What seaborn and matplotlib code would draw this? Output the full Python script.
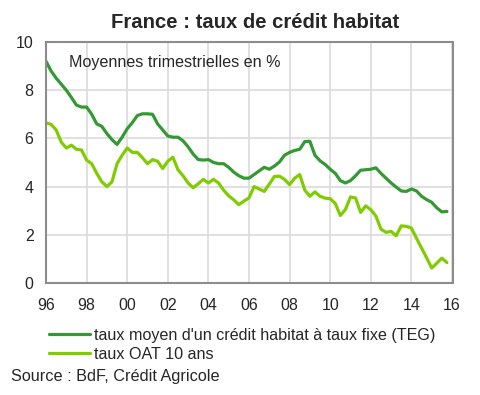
import numpy as np
import pandas as pd
import matplotlib
matplotlib.use('Agg')
import matplotlib.pyplot as plt
import seaborn as sns

# Style
sns.set_style('white')
plt.rcParams['font.family'] = ['Liberation Sans', 'DejaVu Sans']

# Quarterly averages, 1996Q1 .. 2015Q4
quarters = np.arange(1996, 2016, 0.25)

teg = [9.20, 8.80, 8.50, 8.25,
       8.00, 7.70, 7.38, 7.30,
       7.30, 7.00, 6.60, 6.50,
       6.20, 5.95, 5.75, 6.05,
       6.40, 6.65, 6.95, 7.02,
       7.02, 7.00, 6.60, 6.35,
       6.10, 6.05, 6.05, 5.90,
       5.65, 5.35, 5.12, 5.10,
       5.12, 5.00, 4.95, 4.95,
       4.80, 4.60, 4.45, 4.35,
       4.35, 4.50, 4.65, 4.80,
       4.72, 4.85, 5.02, 5.30,
       5.42, 5.50, 5.55, 5.87,
       5.88, 5.30, 5.07, 4.92,
       4.72, 4.55, 4.25, 4.15,
       4.25, 4.45, 4.68, 4.70,
       4.72, 4.78, 4.55, 4.35,
       4.15, 3.98, 3.82, 3.80,
       3.90, 3.82, 3.60, 3.46,
       3.35, 3.12, 2.95, 2.97]

oat = [6.65, 6.58, 6.35, 5.85,
       5.60, 5.72, 5.55, 5.52,
       5.10, 4.95, 4.55, 4.20,
       4.00, 4.20, 4.95, 5.30,
       5.60, 5.42, 5.42, 5.20,
       4.95, 5.12, 5.05, 4.75,
       5.05, 5.22, 4.70, 4.45,
       4.15, 3.95, 4.12, 4.30,
       4.15, 4.30, 4.15, 3.85,
       3.62, 3.45, 3.25, 3.40,
       3.53, 4.00, 3.90, 3.80,
       4.10, 4.42, 4.43, 4.30,
       4.08, 4.35, 4.50, 3.85,
       3.60, 3.78, 3.60, 3.52,
       3.50, 3.30, 2.80, 3.05,
       3.57, 3.53, 2.93, 3.20,
       3.04, 2.78, 2.24, 2.10,
       2.14, 1.96, 2.37, 2.35,
       2.28, 1.86, 1.45, 1.05,
       0.62, 0.82, 1.03, 0.85]

label_teg = "taux moyen d'un crédit habitat à taux fixe (TEG)"
label_oat = "taux OAT 10 ans"
year_ticks = list(range(1996, 2017, 2))
y_ticks = [0, 2, 4, 6, 8, 10]

df = pd.DataFrame({'date': quarters, 'teg': teg, 'oat': oat})

fig = plt.figure(figsize=(4.81, 3.95), dpi=100)
ax = fig.add_axes([46 / 481, (395 - 283) / 395, (453 - 46) / 481, (283 - 42) / 395])

sns.lineplot(data=df, x='date', y='teg', ax=ax, color='#339933', linewidth=2.3, label=label_teg)
sns.lineplot(data=df, x='date', y='oat', ax=ax, color='#80cc00', linewidth=2.3, label=label_oat)

ax.set_xlim(1996, 2016.05)
ax.set_ylim(0, 10)
ax.set_xticks(year_ticks)
ax.set_xticklabels([f'{y % 100:02d}' for y in year_ticks])
ax.set_yticks(y_ticks)
ax.set_xlabel('')
ax.set_ylabel('')
ax.tick_params(axis='both', length=0, labelsize=11.5, pad=9)
ax.tick_params(axis='x', pad=11)
ax.grid(True, color='#dddddd', linewidth=1.3)
ax.set_axisbelow(True)
for s in ax.spines.values():
    s.set_color('#8c8c8c')
    s.set_linewidth(1.5)

fig.text(69 / 481, (395 - 63) / 395, 'Moyennes trimestrielles en %',
         fontsize=11.6, va='center', ha='left')

fig.text(255 / 481, (395 - 23) / 395, 'France : taux de crédit habitat',
         ha='center', va='center', fontsize=14.6, fontweight='bold')

handles, labels = ax.get_legend_handles_labels()
ax.get_legend().remove()
fig.legend(handles, labels, loc='upper left', bbox_to_anchor=(49 / 481, (395 - 328) / 395),
           frameon=False, fontsize=11.6, handlelength=2.55, handletextpad=0.22,
           labelspacing=0.22, borderpad=0, borderaxespad=0)

fig.text(11 / 481, (395 - 376) / 395, 'Source : BdF, Crédit Agricole',
         ha='left', va='center', fontsize=11.7)

plt.savefig('out.png', dpi=100)
plt.close()
